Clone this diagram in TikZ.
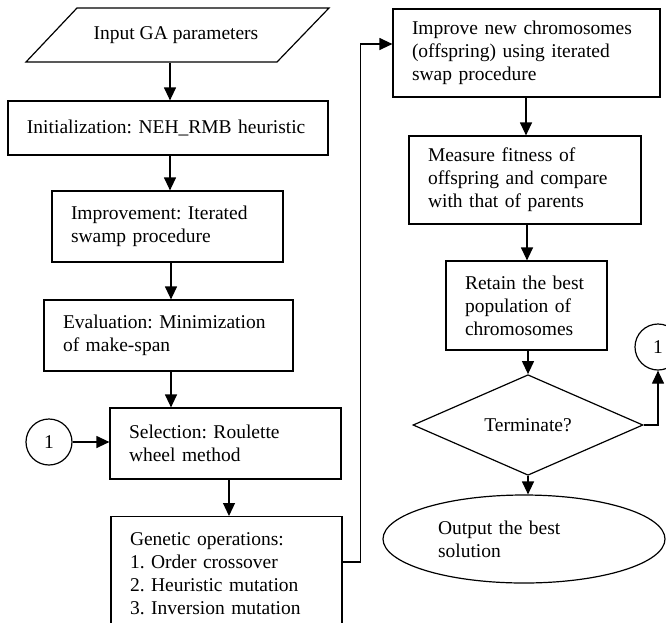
\documentclass[tikz,border=0pt]{standalone}
\usepackage{fontspec}
\setmainfont{Liberation Serif}
\usetikzlibrary{shapes.geometric,arrows.meta,calc}
\begin{document}
\begin{tikzpicture}[x=1pt,y=-1pt,
  font=\fontsize{19.5}{23}\selectfont\frenchspacing,
  line width=1.2pt,
  arr/.style={-{Triangle[length=13pt,width=12pt]}},
  pbox/.style 2 args={draw,rectangle,inner xsep=19pt,inner ysep=0pt,
     minimum width=#1,minimum height=#2,text width=#1-38pt,align=left},
  circ/.style={draw,circle,minimum size=46pt,inner sep=0pt}]
\useasboundingbox (0,0) rectangle (666,622);
% input parallelogram
\draw (77,8) -- (329,8) -- (277,62) -- (26,62) -- cycle;
\node[minimum width=200pt,minimum height=54pt,inner sep=0pt] (inp) at (176,35) {Input GA parameters};
% left column
\node[pbox={320pt}{54pt}] (init) at (168,128) {Initialization: NEH\_RMB heuristic};
\node[pbox={231pt}{71pt}] (imp) at (167.5,226.5) {Improvement: Iterated\\swamp procedure};
\node[pbox={249pt}{71pt}] (eval) at (168.5,335.5) {Evaluation: Minimization\\of make-span};
\node[pbox={231pt}{71pt}] (sel) at (225.5,443.5) {Selection: Roulette\\wheel method};
\node[draw,rectangle,anchor=north,inner xsep=19pt,inner ysep=16pt,text width=193pt,align=left] (gen) at (226.5,516)
  {Genetic operations:\\1. Order crossover\\2. Heuristic mutation\\3. Inversion mutation\\[4pt]};
\node[circ] (c1) at (49,442) {1};
% right column
\node[pbox={267pt}{88pt}] (impr) at (526.5,53) {Improve new chromosomes\\(offspring) using iterated\\swap procedure};
\node[pbox={232pt}{88pt}] (meas) at (525,180) {Measure fitness of\\offspring and compare\\with that of parents};
\node[pbox={161pt}{89pt}] (ret) at (526.5,305.5) {Retain the best\\population of\\chromosomes};
\node[draw,diamond,minimum width=230pt,minimum height=70pt,inner sep=0pt] (term) at (528,425) {Terminate?};
\node[draw,ellipse,minimum width=282pt,minimum height=88pt,inner sep=0pt,text width=172pt,align=left] (out) at (524,539)
  {Output the best\\solution};
\node[circ] (c2) at (658,347) {1};
% connectors
\draw[arr] (inp.south -| 170,0) -- (init.north -| 170,0);
\draw[arr] (init.south -| 170,0) -- (imp.north -| 170,0);
\draw[arr] (imp.south -| 171,0) -- (eval.north -| 171,0);
\draw[arr] (eval.south -| 171,0) -- (sel.north -| 171,0);
\draw[arr] (sel.south -| 229,0) -- (gen.north -| 229,0);
\draw[arr] (c1.east) -- (sel.west |- c1.east);
\draw[arr] ($(gen.north east)+(0,46)$) -| ($(impr.west)+(-32,-9)$) -- ($(impr.west)+(0,-9)$);
\draw[arr] (impr.south -| 526,0) -- (meas.north -| 526,0);
\draw[arr] (meas.south -| 527,0) -- (ret.north -| 527,0);
\draw[arr] (ret.south -| term.north) -- (term.north);
\draw[arr] (term.south) -- (term.south |- out.north);
\draw[arr] (term.east) -| (c2.south);
\end{tikzpicture}
\end{document}
